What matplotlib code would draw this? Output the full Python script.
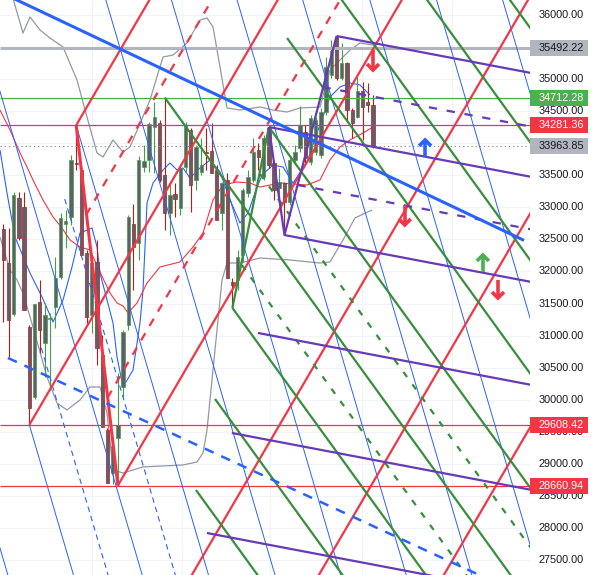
import numpy as np
import matplotlib
matplotlib.use("Agg")
import matplotlib.pyplot as plt
from matplotlib.patches import Rectangle

plt.rcParams['font.family'] = ['Liberation Sans', 'DejaVu Sans']
plt.rcParams['lines.scale_dashes'] = False
plt.rcParams['lines.solid_capstyle'] = 'butt'

# candles (one per bar, index = bar)
opens = [32662, 32131, 31336, 33145, 33005, 31133, 30041, 31523, 30883, 31258,
         31445, 31913, 32740, 32849, 33691, 33582, 32287, 31320, 32147, 30696,
         29526, 28855, 29401, 30197, 31164, 32740, 32443, 33629, 33738, 34253,
         34316, 33504, 32911, 33208, 32989, 33629, 34206, 33426, 33551, 33863,
         33878, 33582, 32911, 33426, 31835, 31866, 32256, 33223, 33426, 33894,
         33473, 34237, 33691, 33301, 33379, 33083, 33738, 33925, 34175, 33707,
         33863, 33816, 34487, 35064, 35657, 35017, 35251, 34518, 34409, 34814,
         34643, 34596]
highs = [32740, 32677, 33239, 33239, 33239, 31164, 31492, 31866, 31507, 31351,
         32225, 32911, 32958, 33816, 34281, 33613, 32334, 32178, 32490, 31008,
         29557, 29370, 30415, 31086, 32880, 33052, 33800, 33972, 34331, 34643,
         34362, 34712, 33379, 33379, 33660, 34331, 34237, 33972, 34081, 34237,
         34315, 33660, 33395, 33535, 31897, 32334, 33301, 33582, 34081, 34003,
         34128, 34253, 33738, 33613, 33395, 33785, 33972, 34580, 34284, 34440,
         34409, 34550, 35345, 35610, 35672, 35563, 35267, 34549, 35033, 34955,
         34939, 34752]
lows = [31211, 30665, 31304, 32490, 31398, 29608, 30010, 30727, 30353, 30150,
        31117, 31882, 32365, 32724, 33582, 32256, 31195, 31039, 30540, 29573,
        28699, 28684, 28661, 30041, 31086, 31710, 32178, 33551, 33551, 33535,
        33395, 32646, 32568, 32849, 32880, 33551, 32927, 33270, 33504, 33582,
        33535, 32802, 32646, 31897, 31431, 31710, 32147, 33161, 33395, 33582,
        33426, 33613, 33114, 33114, 32568, 33036, 33660, 33863, 33660, 33660,
        33816, 33769, 34440, 35017, 34986, 34986, 34331, 34081, 34393, 34050,
        34487, 33925]
closes = [32178, 31242, 33192, 32521, 31398, 29869, 31492, 31086, 31320, 31273,
          31897, 32833, 32786, 33738, 33676, 32256, 31289, 32131, 30805, 29573,
          28699, 29276, 29604, 31055, 32849, 32381, 33738, 33722, 34300, 34409,
          33426, 32911, 33192, 33130, 33613, 34284, 33348, 33941, 33660, 33847,
          33535, 32802, 33379, 31897, 31788, 32225, 33270, 33473, 33863, 33785,
          34081, 33660, 33270, 33395, 33083, 33738, 33863, 34284, 33769, 34393,
          34362, 34487, 35189, 35438, 35017, 35251, 34518, 34315, 34814, 34565,
          34596, 33964]

# indicator curves (bar, price)
bb_upper_bar = [1.67, 3.78, 5.13, 7.05, 8.97, 11.47, 14.15, 16.07, 18.0, 19.15, 21.07,
                22.99, 24.33, 28.17, 30.67, 32.59, 35.28, 37.78, 39.12, 40.27, 41.62,
                42.96, 45.46, 49.3, 51.8, 54.48, 56.98, 60.82, 62.74, 64.66, 66.58,
                68.5, 71.0]
bb_upper = [36312, 35719, 35969, 35766, 35641, 35501, 34986, 34409, 33848, 33785, 34051,
            33864, 33941, 34674, 35345, 35376, 35563, 35922, 35953, 35813, 35189,
            34550, 34518, 34565, 34518, 34487, 34550, 34565, 35142, 35298, 35454,
            35563, 35532]
bb_lower_bar = [-0.63, 1.29, 2.63, 3.78, 5.7, 8.39, 10.31, 12.23, 14.73, 16.65, 18.57,
                19.92, 21.07, 22.99, 26.83, 34.51, 37.2, 38.35, 39.12, 40.08, 41.04,
                42.0, 42.96, 45.46, 49.3, 55.06, 60.82, 62.74, 65.24, 67.54, 70.81]
bb_lower = [32538, 32023, 31867, 31664, 31134, 30354, 29949, 29840, 29996, 30198, 30198,
            29793, 28904, 28857, 28951, 28982, 29029, 29169, 29528, 30308, 31087,
            31867, 32132, 32132, 32210, 32179, 32132, 32148, 32491, 32834, 32959]
blue_curve_bar = [-0.63, 0.71, 2.25, 5.13, 7.43, 9.55, 11.47, 13.19, 14.73, 17.03, 18.0,
                  18.57, 19.92, 21.07, 21.84, 22.99, 24.91, 26.25, 26.83, 27.6, 28.75,
                  30.67, 32.01, 33.36, 34.51, 35.85, 37.78, 39.7, 41.62, 43.54, 45.46,
                  46.99, 48.53, 49.68, 51.8, 53.72, 55.64, 58.33, 60.25, 62.74, 64.66,
                  66.58, 68.5, 70.42]
blue_curve = [33895, 33224, 32538, 31976, 31602, 31212, 31555, 32070, 32600, 32678, 32382,
              31976, 31555, 31196, 30666, 30198, 30463, 31196, 31711, 33068, 33380,
              33583, 33692, 33583, 33614, 33458, 33614, 33739, 33551, 33115, 32756,
              32912, 33271, 33505, 33661, 33629, 33380, 33707, 34160, 34721, 34877,
              34940, 34908, 34752]
red_curve_bar = [-0.63, 1.29, 3.21, 4.55, 5.7, 7.62, 9.55, 11.27, 12.81, 14.73, 16.65,
                 18.57, 20.49, 21.84, 22.99, 23.95, 25.68, 27.6, 30.09, 33.93, 36.43,
                 38.35, 40.27, 42.19, 44.88, 47.38, 49.3, 53.14, 58.33, 60.82, 62.74,
                 64.66, 66.58, 69.08, 71.0]
red_curve = [34518, 34207, 33848, 33629, 33427, 33115, 32850, 32678, 32491, 32382, 32335,
             31992, 31664, 31508, 31462, 31352, 31508, 31820, 32070, 32148, 32382,
             32600, 33115, 33349, 33396, 33380, 33317, 33380, 33349, 33427, 33739,
             33941, 34051, 34160, 34253]

# horizontal levels
levels = [35492.22, 34712.28, 34281.36, 33963.85, 29608.42, 28660.94]
level_colors = ['#b2b5be', '#4caf50', '#f23645', '#b2b5be', '#f23645', '#f23645']
level_text = ['#131722', 'white', 'white', '#131722', 'white', 'white']

# fork / channel drawings: start points and common slopes (price per bar)
red_slope = 138.9
red_start_bar = [14, 5, 22]
red_start_price = [34281, 29608, 28661]
red_floor_bar = [36.2, 60.6, 84.6]          # full lines, bar where they cross 27266
red_dash_bar = [15.9, 20.0]
red_dash_price = [32881, 30028]
red_down = ([14, 22], [34281, 28661])

blue_slope = -276.1
blue_top_bar = [-31.6, -5.8, 19.7, 32.3, 44.9, 57.5, 70.4, 83.2, 95.9]   # cross 36234
blue_start_bar = [14, 5]
blue_start_price = [34281, 29608]
blue_dash_bar = [7.3, 11.8]
blue_dash_price = [30807, 33130]
thick_blue = ([0, 100], [36334, 32485])
blue_dash_thick_start = (0.9, 30651)
blue_dash_thick_slope = -37.4

green_slope = -112.1
green_start_bar = [37.0, 40.66, 44, 31, 51, 54.5]
green_start_price = [28592, 30011, 31431, 34712, 34253, 35641]
green_top_bar = [65.0, 81.4, 97.3]
green_dash_bar = [45.8, 49.3]
green_dash_price = [32101, 33520]
green_link = ([44, 51], [31431, 34253])

purple_slope = -15.43
purple_start_bar = [64, 51, 54, 48.9, 43.9, 39.1]
purple_start_price = [35672, 34253, 32568, 31041, 29481, 27921]
purple_dash_bar = [61.3, 56.5]
purple_dash_price = [34877, 33349]
purple_link = ([51, 54, 64], [34253, 32568, 35672])

arrow_bar = [71.0, 77.1, 81.0, 92.1, 95.0]
arrow_tip = [35142, 32725, 34051, 32257, 31586]
arrow_tail = [35454, 33037, 33785, 31992, 31867]
arrow_color = ['#f23645', '#f23645', '#2962ff', '#4caf50', '#f23645']

grid_bars = [17.0, 34.3, 51.2, 68.9, 86.2]
tick_prices = np.arange(27500, 36001, 500)

W, H = 597, 575
PLOT_W = 530
fig = plt.figure(figsize=(W / 100, H / 100), dpi=100)
ax = fig.add_axes([0, 0, PLOT_W / W, 1])
ax2 = fig.add_axes([PLOT_W / W, 0, 1 - PLOT_W / W, 1])

x0, x1 = -0.634, 101.15
y0, y1 = 27266, 36234
ax.set_xlim(x0, x1)
ax.set_ylim(y0, y1)
ax2.set_xlim(0, 1)
ax2.set_ylim(y0, y1)
for a in (ax, ax2):
    a.set_axis_off()

px_x = (x1 - x0) / PLOT_W      # one pixel in bars
px_y = (y1 - y0) / H           # one pixel in price

# grid
for p in tick_prices:
    ax.axhline(p, color='#f0f3fa', lw=0.8, zorder=0)
for b in grid_bars:
    ax.axvline(b, color='#f0f3fa', lw=0.8, zorder=0)

# indicators
ax.plot(bb_upper_bar, bb_upper, color='#9598a1', lw=0.9, zorder=1)
ax.plot(bb_lower_bar, bb_lower, color='#9598a1', lw=0.9, zorder=1)
ax.plot(blue_curve_bar, blue_curve, color='#2962ff', lw=0.8, zorder=1)
ax.plot(red_curve_bar, red_curve, color='#f23645', lw=0.8, zorder=1)

# candles
for i in range(len(opens)):
    up = closes[i] >= opens[i]
    c = '#43a047' if up else '#b71c1c'
    ax.plot([i, i], [lows[i], highs[i]], color=c, lw=0.8, zorder=2)
    lo, hi = min(opens[i], closes[i]), max(opens[i], closes[i])
    hgt = max(hi - lo, 1.2 * px_y)
    ax.add_patch(Rectangle((i - 0.32, lo), 0.64, hgt, facecolor='#5d606b',
                           edgecolor=c, lw=0.5, zorder=3))


def ray(b, p, slope, color, lw, dashes=None, z=4):
    bb = np.array([b, x1 + 5])
    line, = ax.plot(bb, p + slope * (bb - b), color=color, lw=lw, zorder=z)
    if dashes:
        line.set_dashes(dashes)


def full(b, p, slope, color, lw, z=4):
    bb = np.array([x0 - 40, x1 + 40])
    ax.plot(bb, p + slope * (bb - b), color=color, lw=lw, zorder=z)


# horizontal levels
ax.axhline(levels[0], color='#b2b5be', lw=2.2, zorder=4)
ax.axhline(levels[1], color='#4caf50', lw=0.9, zorder=4)
ax.axhline(levels[2], color='#f23645', lw=0.9, zorder=4)
ax.axhline(levels[3], color='#9598a1', lw=0.8, ls=(0, (1, 2)), zorder=4)
ax.axhline(levels[4], color='#f23645', lw=0.9, zorder=4)
ax.axhline(levels[5], color='#f23645', lw=0.9, zorder=4)

# blue thin fan
for b in blue_top_bar:
    full(b, y1, blue_slope, '#2962ff', 0.7)
for b, p in zip(blue_start_bar, blue_start_price):
    ray(b, p, blue_slope, '#2962ff', 0.7)
for b, p in zip(blue_dash_bar, blue_dash_price):
    ray(b, p, blue_slope, '#2962ff', 0.8, dashes=(4, 3))

# red
for b, p in zip(red_start_bar, red_start_price):
    ray(b, p, red_slope, '#f23645', 1.6)
for b in red_floor_bar:
    full(b, y0, red_slope, '#f23645', 1.6)
for b, p in zip(red_dash_bar, red_dash_price):
    ray(b, p, red_slope, '#f23645', 1.6, dashes=(6, 6))
ax.plot(*red_down, color='#f23645', lw=2.2, zorder=4)

# green
for b, p in zip(green_start_bar, green_start_price):
    ray(b, p, green_slope, '#388e3c', 1.6)
for b in green_top_bar:
    full(b, y1, green_slope, '#388e3c', 1.6)
for b, p in zip(green_dash_bar, green_dash_price):
    ray(b, p, green_slope, '#388e3c', 1.6, dashes=(4.5, 6.5))
ax.plot(*green_link, color='#388e3c', lw=1.6, zorder=4)

# purple
for b, p in zip(purple_start_bar, purple_start_price):
    ray(b, p, purple_slope, '#673ab7', 1.6)
for b, p in zip(purple_dash_bar, purple_dash_price):
    ray(b, p, purple_slope, '#673ab7', 1.6, dashes=(6, 7))
ax.plot(*purple_link, color='#673ab7', lw=1.6, zorder=4)

# thick blue trend lines
ax.plot(*thick_blue, color='#2962ff', lw=2.2, zorder=4)
ray(*blue_dash_thick_start, blue_dash_thick_slope, '#2962ff', 1.8, dashes=(7, 6))

# arrow marks
for b, tip, tail, c in zip(arrow_bar, arrow_tip, arrow_tail, arrow_color):
    d = 1 if tip > tail else -1
    ax.plot([b, b], [tail, tip - d * 2 * px_y], color=c, lw=2.6, zorder=6)
    ax.plot([b - 6 * px_x, b, b + 6 * px_x],
            [tip - d * 6 * px_y, tip, tip - d * 6 * px_y],
            color=c, lw=2.6, zorder=6, solid_joinstyle='miter')

# price scale: tick labels that sit right under a level label are not drawn
for p in tick_prices:
    if min(abs(p - lv) for lv in levels) < 4 * px_y:
        continue
    ax2.text(0.47, p, f"{p:.2f}", ha='center', va='center', fontsize=7.8,
             color='#131722', zorder=1)
for lv, fc, tc in zip(levels, level_colors, level_text):
    ax2.add_patch(Rectangle((0, lv - 8 * px_y), 58 / 67, 16 * px_y,
                            facecolor=fc, edgecolor='none', zorder=2))
    ax2.text(0.47, lv, f"{lv:.2f}", ha='center', va='center', fontsize=7.8,
             color=tc, zorder=3)

fig.savefig("out.png", dpi=100)
